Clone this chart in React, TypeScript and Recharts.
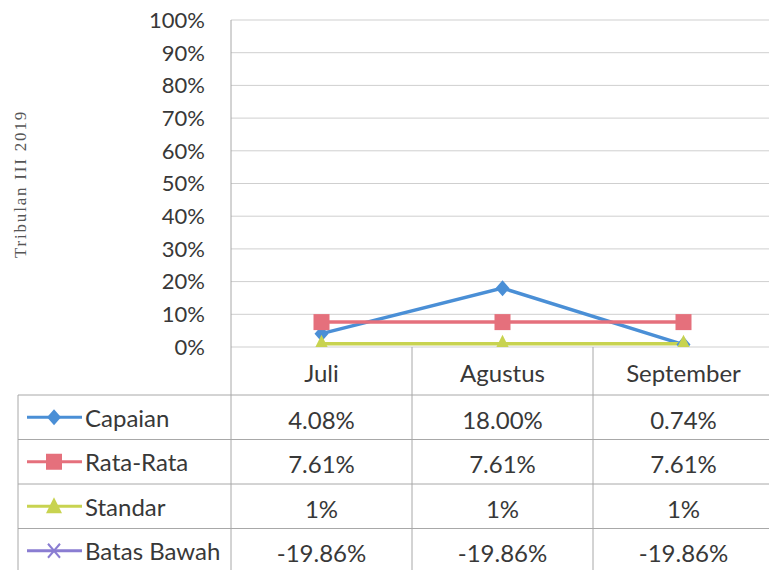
import { LineChart, Line, XAxis, YAxis, CartesianGrid } from "recharts";

// months on the x axis
const months = ["Juli", "Agustus", "September"];

// series values (fractions of 1)
const capaian = [0.0408, 0.18, 0.0074];
const rataRata = [0.0761, 0.0761, 0.0761];
const standar = [0.01, 0.01, 0.01];
const batasBawah = [-0.1986, -0.1986, -0.1986];

const yTicks = [0, 0.1, 0.2, 0.3, 0.4, 0.5, 0.6, 0.7, 0.8, 0.9, 1];

const FONT = "Lato, 'Noto Sans', sans-serif";
const TEXT = "#383838";

type Shape = "diamond" | "square" | "triangle" | "cross";

const series: {
  key: string;
  name: string;
  color: string;
  shape: Shape;
  values: number[];
  decimals: number;
}[] = [
  { key: "capaian", name: "Capaian", color: "#4a8fd6", shape: "diamond", values: capaian, decimals: 2 },
  { key: "rata", name: "Rata-Rata", color: "#e5707c", shape: "square", values: rataRata, decimals: 2 },
  { key: "standar", name: "Standar", color: "#c8d350", shape: "triangle", values: standar, decimals: 0 },
  { key: "batas", name: "Batas Bawah", color: "#8a7dd2", shape: "cross", values: batasBawah, decimals: 2 },
];

const data = months.map((m, i) => {
  const row: Record<string, string | number> = { month: m };
  series.forEach((s) => (row[s.key] = s.values[i]));
  return row;
});

const fmt = (v: number, d: number) => `${(v * 100).toFixed(d)}%`;

function Marker({ cx, cy, shape, color }: { cx: number; cy: number; shape: Shape; color: string }) {
  if (shape === "diamond")
    return <polygon points={`${cx},${cy - 8} ${cx + 7},${cy} ${cx},${cy + 8} ${cx - 7},${cy}`} fill={color} />;
  if (shape === "square") return <rect x={cx - 8} y={cy - 8} width={16} height={16} fill={color} />;
  if (shape === "triangle")
    return <polygon points={`${cx},${cy - 9} ${cx + 8},${cy + 7} ${cx - 8},${cy + 7}`} fill={color} />;
  return (
    <g stroke={color} strokeWidth={2}>
      <line x1={cx - 6} y1={cy - 7} x2={cx + 6} y2={cy + 7} />
      <line x1={cx - 6} y1={cy + 7} x2={cx + 6} y2={cy - 7} />
    </g>
  );
}

// layout of the plot and the data table under it
const PLOT_LEFT = 231;
const PLOT_TOP = 20;
const PLOT_BOTTOM = 347;
const BAND = 181;
const TABLE_LEFT = 18;
const TABLE_TOP = 395;
const ROW_H = 44.5;
const LINE = "#a8a8a8";

export default function App() {
  return (
    <div
      style={{
        position: "fixed",
        left: 0,
        top: 0,
        width: 769,
        height: 570,
        overflow: "hidden",
        background: "#fff",
        fontFamily: FONT,
      }}
    >
      <LineChart
        width={780}
        height={570}
        data={data}
        margin={{ top: PLOT_TOP, right: 6, left: 0, bottom: 193 }}
      >
        <CartesianGrid vertical={false} stroke="#cfcfcf" />
        <XAxis
          dataKey="month"
          height={30}
          padding={{ left: BAND / 2, right: BAND / 2 }}
          axisLine={false}
          tickLine={false}
          tickSize={0}
          tickMargin={18}
          tick={{ fontSize: 24, fill: TEXT, fontFamily: FONT }}
        />
        <YAxis
          width={PLOT_LEFT}
          domain={[0, 1]}
          ticks={yTicks}
          allowDataOverflow
          tickFormatter={(v: number) => `${Math.round(v * 100)}%`}
          axisLine={{ stroke: LINE }}
          tickLine={false}
          tickSize={0}
          tickMargin={26}
          tick={{ fontSize: 22, fill: TEXT, fontFamily: FONT }}
        />
        {series.map((s) => (
          <Line
            key={s.key}
            dataKey={s.key}
            name={s.name}
            stroke={s.color}
            strokeWidth={3.5}
            isAnimationActive={false}
            dot={(p: any) => (
              <Marker key={`${s.key}-${p.index}`} cx={p.cx} cy={p.cy} shape={s.shape} color={s.color} />
            )}
          />
        ))}
      </LineChart>

      {/* y axis title */}
      <svg style={{ position: "absolute", left: 0, top: 0 }} width={40} height={340}>
        <text
          x={20}
          y={184}
          transform="rotate(-90 20 184)"
          textAnchor="middle"
          dominantBaseline="central"
          fontFamily="'Liberation Serif', 'DejaVu Serif', serif"
          fontSize={17}
          letterSpacing={1.8}
          fill="#555"
        >
          Tribulan III 2019
        </text>
      </svg>

      {/* data table under the plot */}
      <svg style={{ position: "absolute", left: 0, top: 0 }} width={769} height={570}>
        <line x1={PLOT_LEFT} y1={PLOT_BOTTOM} x2={PLOT_LEFT} y2={570} stroke={LINE} />
        {months.slice(1).map((m, i) => (
          <line
            key={m}
            x1={PLOT_LEFT + BAND * (i + 1)}
            y1={PLOT_BOTTOM}
            x2={PLOT_LEFT + BAND * (i + 1)}
            y2={570}
            stroke={LINE}
          />
        ))}
        <line x1={TABLE_LEFT} y1={TABLE_TOP} x2={TABLE_LEFT} y2={570} stroke={LINE} />
        {series.map((s, r) => (
          <line
            key={s.key}
            x1={TABLE_LEFT}
            y1={TABLE_TOP + ROW_H * r}
            x2={769}
            y2={TABLE_TOP + ROW_H * r}
            stroke={LINE}
          />
        ))}
        {series.map((s, r) => {
          const cy = TABLE_TOP + ROW_H * r + ROW_H / 2;
          return (
            <g key={s.key}>
              <line x1={27} y1={cy} x2={82} y2={cy} stroke={s.color} strokeWidth={3} />
              <Marker cx={54} cy={cy} shape={s.shape} color={s.color} />
              <text x={85} y={cy} dominantBaseline="central" fontSize={24} fill={TEXT} fontFamily={FONT}>
                {s.name}
              </text>
              {s.values.map((v, i) => (
                <text
                  key={i}
                  x={PLOT_LEFT + BAND * i + BAND / 2}
                  y={cy + 2}
                  textAnchor="middle"
                  dominantBaseline="central"
                  fontSize={24}
                  fill={TEXT}
                  fontFamily={FONT}
                >
                  {fmt(v, s.decimals)}
                </text>
              ))}
            </g>
          );
        })}
      </svg>
    </div>
  );
}
